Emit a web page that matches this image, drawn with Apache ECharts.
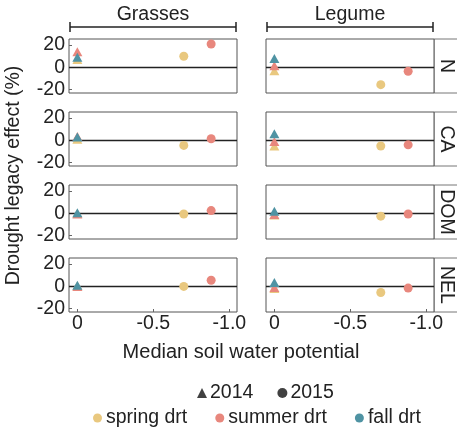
<!DOCTYPE html>
<html>
<head>
<meta charset="utf-8">
<script src="https://cdn.jsdelivr.net/npm/echarts@6/dist/echarts.min.js"></script>
<style>
  html, body { margin: 0; padding: 0; background: #fff; }
  #chart { width: 457px; height: 427px; }
</style>
</head>
<body>
<div id="chart"></div>
<script>
// Facets: plant group (columns) x soil nutrient (rows)
const groupLabels = ['Grasses', 'Legume'];
const rowLabels = ['N', 'CA', 'DOM', 'NEL'];
const treatments = ['spring drt', 'summer drt', 'fall drt'];
const treatmentColors = ['#E9C87F', '#E8877D', '#4F93A3'];
const years = ['2014', '2015'];
const yearSymbols = ['triangle', 'circle'];

// Median soil water potential of each treatment, per year
const swp2014 = [0, 0, 0];
const swp2015 = [-0.70, -0.88, null];

// Drought legacy effect (%), one value per row: N, CA, DOM, NEL
const grasses2014Spring = [7, 1, 0, 0.5];
const grasses2014Summer = [14, 3.5, -0.5, 0];
const grasses2014Fall   = [9, 3, 0.5, 1];
const grasses2015Spring = [10, -4.5, -0.5, 0];
const grasses2015Summer = [21, 1.5, 2.5, 5.5];

const legume2014Spring = [-3, -5, -1.5, -2];
const legume2014Summer = [1.5, -1, -1, -1];
const legume2014Fall   = [8, 6, 2, 3.5];
const legume2015Spring = [-15.5, -5, -2.5, -5.5];
const legume2015Summer = [-3.5, -4, -0.5, -1.5];

// Axis ticks
const xTicks = [0, -0.5, -1.0];
const yTicks = [-20, 0, 20];

const effects = [
  [[grasses2014Spring, grasses2014Summer, grasses2014Fall], [grasses2015Spring, grasses2015Summer, null]],
  [[legume2014Spring, legume2014Summer, legume2014Fall], [legume2015Spring, legume2015Summer, null]]
];
const swp = [swp2014, swp2015];

// Panel layout
const FONT = "'Liberation Sans', Arial, sans-serif";
const TXT = '#222';
const colLeft = [69, 266];
const colWidth = 168;
const rowTop = [39, 112, 185, 258];
const rowHeight = 54;

const grids = [], xAxes = [], yAxes = [], series = [];

rowLabels.forEach((row, r) => {
  groupLabels.forEach((grp, c) => {
    const gi = grids.length;
    const bottomRow = r === rowLabels.length - 1;
    grids.push({
      left: colLeft[c], top: rowTop[r], width: colWidth, height: rowHeight,
      show: true, borderColor: '#555', borderWidth: 1, backgroundColor: '#fff'
    });
    xAxes.push({
      gridIndex: gi, type: 'value', inverse: true, min: -1.05, max: 0.055,
      position: 'bottom',
      axisLine: { show: false, onZero: false },
      splitLine: { show: false },
      axisTick: { show: bottomRow, inside: true, length: 3, customValues: xTicks, lineStyle: { color: '#666' } },
      axisLabel: {
        show: bottomRow, customValues: xTicks, margin: 2,
        fontSize: 19.5, color: TXT, fontFamily: FONT,
        formatter: v => (v === 0 ? '0' : v.toFixed(1))
      }
    });
    yAxes.push({
      gridIndex: gi, type: 'value', min: -23, max: 25.5,
      position: 'left',
      axisLine: { show: false, onZero: false },
      splitLine: { show: false },
      axisTick: { show: c === 0, inside: true, length: 3, customValues: yTicks, lineStyle: { color: '#666' } },
      axisLabel: {
        show: c === 0, customValues: yTicks, margin: 4,
        fontSize: 19.5, color: TXT, fontFamily: FONT
      }
    });

    years.forEach((yr, y) => {
      treatments.forEach((t, k) => {
        const vals = effects[c][y][k];
        if (!vals || swp[y][k] === null) return;
        series.push({
          name: t, type: 'scatter', xAxisIndex: gi, yAxisIndex: gi,
          symbol: yearSymbols[y],
          symbolSize: y === 0 ? [10, 9] : 9,
          itemStyle: { color: treatmentColors[k], opacity: 1 },
          data: [[swp[y][k], vals[r]]],
          z: 3
        });
      });
    });

    // horizontal reference line at zero effect
    series.push({
      type: 'line', xAxisIndex: gi, yAxisIndex: gi, data: [], silent: true,
      markLine: {
        silent: true, symbol: ['none', 'none'], label: { show: false },
        lineStyle: { color: '#222', width: 1.3, type: 'solid' },
        data: [{ yAxis: 0 }], z: 2
      }
    });
  });
});

// legend entries for the year shapes
years.forEach((yr, y) => {
  series.push({
    name: yr, type: 'scatter', xAxisIndex: 0, yAxisIndex: 0,
    symbol: yearSymbols[y], itemStyle: { color: '#111' }, data: []
  });
});

// Facet strips and axis titles
const graphic = [];
groupLabels.forEach((g, c) => {
  const x0 = colLeft[c], x1 = colLeft[c] + colWidth;
  graphic.push({
    type: 'line', silent: true,
    shape: { x1: x0 + 1, y1: 22, x2: x0 + 1, y2: 32 },
    style: { stroke: '#222', lineWidth: 1.5 }
  }, {
    type: 'line', silent: true,
    shape: { x1: x1 - 1, y1: 22, x2: x1 - 1, y2: 32 },
    style: { stroke: '#222', lineWidth: 1.5 }
  }, {
    type: 'line', silent: true,
    shape: { x1: x0 + 1, y1: 27, x2: x1 - 1, y2: 27 },
    style: { stroke: '#222', lineWidth: 1.5 }
  }, {
    type: 'text', silent: true, x: (x0 + x1) / 2, y: 15,
    style: { text: g, font: '19.5px ' + FONT, fill: TXT, align: 'center', verticalAlign: 'middle' }
  });
});
rowLabels.forEach((lab, r) => {
  const x0 = colLeft[1] + colWidth;
  graphic.push({
    type: 'rect', silent: true, z: -1,
    shape: { x: x0, y: rowTop[r], width: 40, height: rowHeight },
    style: { fill: '#fff', stroke: '#777', lineWidth: 1 }
  }, {
    type: 'text', silent: true, x: x0 + 12, y: rowTop[r] + rowHeight / 2,
    rotation: -Math.PI / 2,
    style: { text: lab, font: '19.5px ' + FONT, fill: TXT, align: 'center', verticalAlign: 'middle' }
  });
});
graphic.push({
  type: 'text', silent: true, x: 14, y: rowTop[0] + (rowTop[3] + rowHeight - rowTop[0]) / 2,
  rotation: Math.PI / 2,
  style: { text: 'Drought legacy effect (%)', font: '19.5px ' + FONT, fill: TXT, align: 'center', verticalAlign: 'middle' }
}, {
  type: 'text', silent: true, x: 241, y: 352,
  style: { text: 'Median soil water potential', font: '20px ' + FONT, fill: TXT, align: 'center', verticalAlign: 'middle' }
});

const chart = echarts.init(document.getElementById('chart'), null, { renderer: 'canvas' });
chart.setOption({
  animation: false,
  backgroundColor: '#fff',
  textStyle: { fontFamily: FONT },
  grid: grids,
  xAxis: xAxes,
  yAxis: yAxes,
  legend: [{
    left: 192, top: 378, selectedMode: false,
    itemWidth: 10, itemHeight: 10, itemGap: 24,
    textStyle: { fontSize: 19.5, color: TXT, fontFamily: FONT, padding: [0, 0, 0, -2] },
    data: [{ name: '2014', icon: 'triangle' }, { name: '2015', icon: 'circle' }]
  }, {
    left: 88, top: 403, selectedMode: false,
    itemWidth: 9, itemHeight: 9, itemGap: 28,
    textStyle: { fontSize: 19.5, color: TXT, fontFamily: FONT, padding: [0, 0, 0, -1] },
    data: treatments.map(t => ({ name: t, icon: 'circle' }))
  }],
  graphic: graphic,
  series: series
});
</script>
</body>
</html>
